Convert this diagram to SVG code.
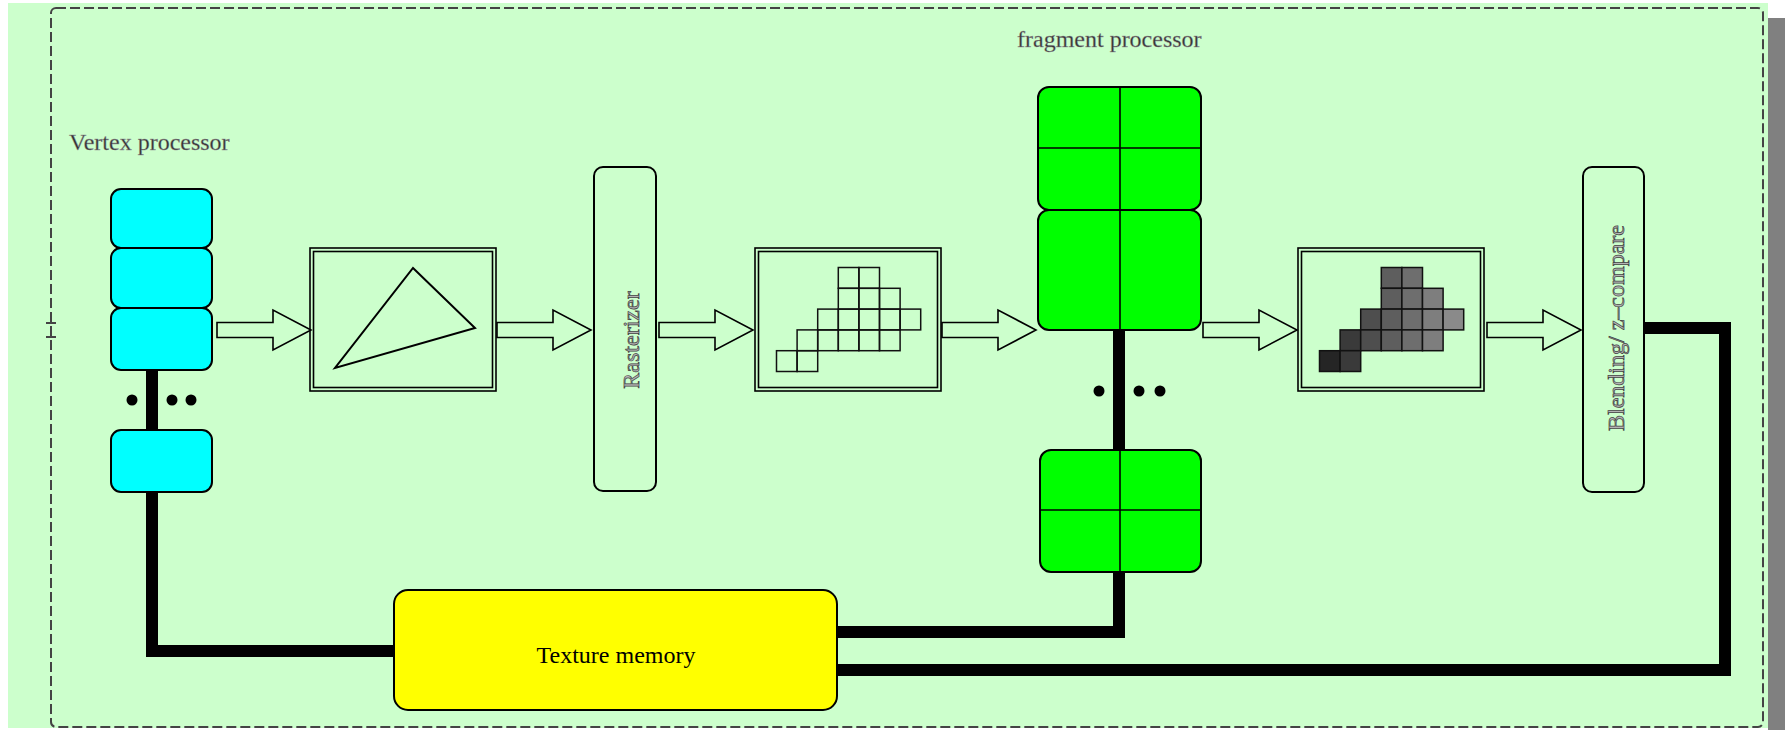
<svg xmlns="http://www.w3.org/2000/svg" width="1785" height="730" viewBox="0 0 1785 730">
<style>
.lbl{font-family:"Liberation Serif","Times New Roman",serif;font-size:24px;}
.dark{fill:#333;stroke:#999;stroke-width:0.4;}
.emb{fill:#b4b4b4;stroke:#444;stroke-width:0.7;}
.box{stroke:#000;stroke-width:2;}
.frame{fill:none;stroke:#000;stroke-width:1.6;}
.cyan{fill:#00ffff;}
.green{fill:#00ff00;}
.div{stroke:#000;stroke-width:1.6;}
.wire{fill:none;stroke:#000;stroke-width:12;stroke-linejoin:miter;stroke-linecap:butt;}
.arrow{fill:#ccffcc;stroke:#000;stroke-width:1.6;stroke-linejoin:miter;}
.cell{stroke:#111;stroke-width:1.5;}
.dot{fill:#000;}
</style>
<defs>
<path id="harrow" d="M0,-7.5 H56 V-20 L94,0 L56,20 V7.5 H0 Z"/>
</defs>

<!-- background -->
<rect x="0" y="0" width="1785" height="730" fill="#ffffff"/>
<rect x="1768" y="18" width="17" height="712" fill="#808080"/>
<rect x="8" y="3" width="1760" height="725" fill="#ccffcc"/>
<rect x="51" y="8" width="1712" height="719" rx="5" fill="none" stroke="#444" stroke-width="2" stroke-dasharray="10 4"/>
<path d="M46,323 H56 M46,337 H56" stroke="#444" stroke-width="2"/>

<!-- connectors -->
<g id="connectors">
  <path class="wire" d="M152,370 V430"/>
  <path class="wire" d="M152,492 V651 H394"/>
  <path class="wire" d="M1119,330 V450"/>
  <path class="wire" d="M1119,572 V632 H837"/>
  <path class="wire" d="M1644,328 H1725 V670 H837"/>
  <use href="#harrow" class="arrow" transform="translate(217,330)"/>
  <use href="#harrow" class="arrow" transform="translate(497,330)"/>
  <use href="#harrow" class="arrow" transform="translate(659,330)"/>
  <use href="#harrow" class="arrow" transform="translate(942,330)"/>
  <use href="#harrow" class="arrow" transform="translate(1203,330)"/>
  <use href="#harrow" class="arrow" transform="translate(1487,330)"/>
  <circle class="dot" cx="132" cy="400" r="5.5"/>
  <circle class="dot" cx="172" cy="400" r="5.5"/>
  <circle class="dot" cx="191" cy="400" r="5.5"/>
  <circle class="dot" cx="1099" cy="391" r="5.5"/>
  <circle class="dot" cx="1139" cy="391" r="5.5"/>
  <circle class="dot" cx="1160" cy="391" r="5.5"/>
</g>

<!-- vertex processor -->
<g id="vertex-processor">
  <text class="lbl dark" x="69" y="150">Vertex processor</text>
  <rect class="box cyan" x="111" y="189" width="101" height="59" rx="10"/>
  <rect class="box cyan" x="111" y="248" width="101" height="60" rx="10"/>
  <rect class="box cyan" x="111" y="308" width="101" height="62" rx="10"/>
  <rect class="box cyan" x="111" y="430" width="101" height="62" rx="10"/>
</g>

<!-- triangle -->
<g id="primitive">
  <rect class="frame" x="310" y="248" width="186" height="143"/>
  <rect class="frame" x="313.5" y="251.5" width="179" height="136"/>
  <polygon points="413,268 475,328 335,368" fill="none" stroke="#000" stroke-width="2"/>
</g>

<!-- rasterizer -->
<g id="rasterizer">
  <rect class="box" x="594" y="167" width="62" height="324" rx="9" fill="#ccffcc"/>
  <text class="lbl emb" text-anchor="middle" transform="translate(639,340) rotate(-90)">Rasterizer</text>
</g>

<!-- fragments -->
<g id="fragments">
  <rect class="frame" x="755" y="248" width="186" height="143"/>
  <rect class="frame" x="758.5" y="251.5" width="179" height="136"/>
  <g transform="translate(776.5,267.5)" fill="none">
    <rect class="cell" x="61.8" y="0" width="20.6" height="20.8"/>
    <rect class="cell" x="82.4" y="0" width="20.6" height="20.8"/>
    <rect class="cell" x="61.8" y="20.8" width="20.6" height="20.8"/>
    <rect class="cell" x="82.4" y="20.8" width="20.6" height="20.8"/>
    <rect class="cell" x="103" y="20.8" width="20.6" height="20.8"/>
    <rect class="cell" x="41.2" y="41.6" width="20.6" height="20.8"/>
    <rect class="cell" x="61.8" y="41.6" width="20.6" height="20.8"/>
    <rect class="cell" x="82.4" y="41.6" width="20.6" height="20.8"/>
    <rect class="cell" x="103" y="41.6" width="20.6" height="20.8"/>
    <rect class="cell" x="123.6" y="41.6" width="20.6" height="20.8"/>
    <rect class="cell" x="20.6" y="62.4" width="20.6" height="20.8"/>
    <rect class="cell" x="41.2" y="62.4" width="20.6" height="20.8"/>
    <rect class="cell" x="61.8" y="62.4" width="20.6" height="20.8"/>
    <rect class="cell" x="82.4" y="62.4" width="20.6" height="20.8"/>
    <rect class="cell" x="103" y="62.4" width="20.6" height="20.8"/>
    <rect class="cell" x="0" y="83.2" width="20.6" height="20.8"/>
    <rect class="cell" x="20.6" y="83.2" width="20.6" height="20.8"/>
  </g>
</g>

<!-- fragment processor -->
<g id="fragment-processor">
  <text class="lbl dark" x="1017" y="47">fragment processor</text>
  <rect class="box green" x="1038" y="87" width="163" height="123" rx="11"/>
  <rect class="box green" x="1038" y="210" width="163" height="120" rx="11"/>
  <path class="div" d="M1038,148 H1201 M1120,87 V330"/>
  <rect class="box green" x="1040" y="450" width="161" height="122" rx="11"/>
  <path class="div" d="M1040,510 H1201 M1120,450 V572"/>
</g>

<!-- shaded fragments -->
<g id="shaded-fragments">
  <rect class="frame" x="1298" y="248" width="186" height="143"/>
  <rect class="frame" x="1301.5" y="251.5" width="179" height="136"/>
  <g transform="translate(1319.5,267.5)">
    <rect class="cell" x="61.8" y="0" width="20.6" height="20.8" fill="#5e5e5e"/>
    <rect class="cell" x="82.4" y="0" width="20.6" height="20.8" fill="#6e6e6e"/>
    <rect class="cell" x="61.8" y="20.8" width="20.6" height="20.8" fill="#5e5e5e"/>
    <rect class="cell" x="82.4" y="20.8" width="20.6" height="20.8" fill="#6e6e6e"/>
    <rect class="cell" x="103" y="20.8" width="20.6" height="20.8" fill="#7e7e7e"/>
    <rect class="cell" x="41.2" y="41.6" width="20.6" height="20.8" fill="#4e4e4e"/>
    <rect class="cell" x="61.8" y="41.6" width="20.6" height="20.8" fill="#5e5e5e"/>
    <rect class="cell" x="82.4" y="41.6" width="20.6" height="20.8" fill="#6e6e6e"/>
    <rect class="cell" x="103" y="41.6" width="20.6" height="20.8" fill="#7e7e7e"/>
    <rect class="cell" x="123.6" y="41.6" width="20.6" height="20.8" fill="#8a8a8a"/>
    <rect class="cell" x="20.6" y="62.4" width="20.6" height="20.8" fill="#3a3a3a"/>
    <rect class="cell" x="41.2" y="62.4" width="20.6" height="20.8" fill="#4e4e4e"/>
    <rect class="cell" x="61.8" y="62.4" width="20.6" height="20.8" fill="#5e5e5e"/>
    <rect class="cell" x="82.4" y="62.4" width="20.6" height="20.8" fill="#6e6e6e"/>
    <rect class="cell" x="103" y="62.4" width="20.6" height="20.8" fill="#7e7e7e"/>
    <rect class="cell" x="0" y="83.2" width="20.6" height="20.8" fill="#252525"/>
    <rect class="cell" x="20.6" y="83.2" width="20.6" height="20.8" fill="#3a3a3a"/>
  </g>
</g>

<!-- blending -->
<g id="blending">
  <rect class="box" x="1583" y="167" width="61" height="325" rx="9" fill="#ccffcc"/>
  <text class="lbl emb" text-anchor="middle" transform="translate(1624,328) rotate(-90)">Blending/ z–compare</text>
</g>

<!-- texture memory -->
<g id="texture-memory">
  <rect class="box" x="394" y="590" width="443" height="120" rx="14" fill="#ffff00"/>
  <text class="lbl" x="616" y="663" text-anchor="middle" fill="#000">Texture memory</text>
</g>
</svg>
